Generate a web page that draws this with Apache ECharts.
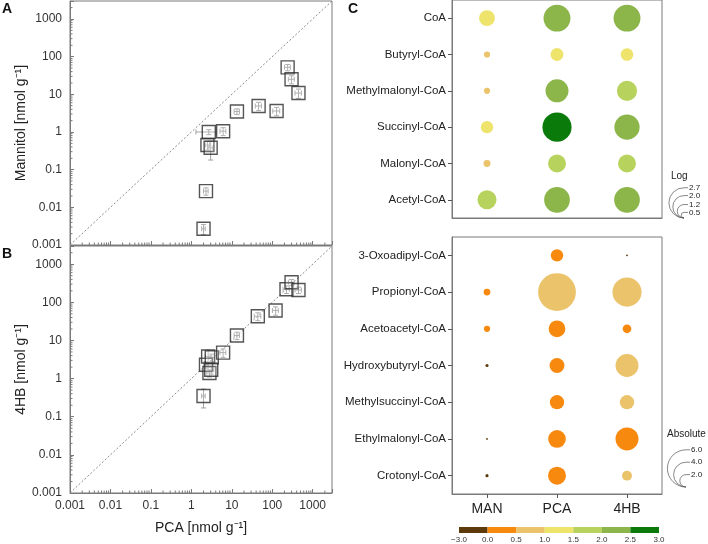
<!DOCTYPE html>
<html><head><meta charset="utf-8">
<script src="https://cdn.jsdelivr.net/npm/echarts@6/dist/echarts.min.js"></script>
<style>html,body{margin:0;padding:0;background:#fff}#c{width:708px;height:544px}</style>
</head><body><div id="c"></div>
<script>
// ---------- Data ----------
const logTickLabels = ['0.001','0.01','0.1','1','10','100','1000'];
const axisMin = 0.001, axisMax = 3000;

// Panel A: PCA vs Mannitol
const pcaA    = [2.0, 2.3, 2.5, 3.0, 2.7, 6.1, 13.4, 46, 128, 240, 300, 445];
const manA    = [0.0027, 0.027, 0.45, 0.38, 1.0, 1.05, 3.5, 4.9, 3.6, 52, 25, 10.8];
const pcaSdA  = [0.2, 0.3, 0.3, 0.4, 1.4, 1.0, 2, 8, 25, 40, 50, 80];
const manSdA  = [0.0008, 0.006, 0.12, 0.2, 0.15, 0.25, 0.6, 1.2, 0.9, 10, 6, 3];

// Panel B: PCA vs 4HB
const pcaB    = [2.0, 2.3, 2.6, 3.2, 2.8, 3.1, 6.1, 13.4, 44, 121, 225, 300, 445];
const hbB     = [0.35, 2.3, 3.8, 3.6, 1.4, 1.7, 4.8, 13.5, 43, 61, 220, 335, 210];
const pcaSdB  = [0.2, 0.3, 0.4, 0.5, 0.4, 0.5, 1, 2, 8, 20, 40, 50, 80];
const hbSdB   = [0.18, 0.5, 1.8, 0.8, 0.3, 0.4, 1.2, 3, 10, 15, 50, 60, 40];

// Panel C
const conditions = ['MAN', 'PCA', '4HB'];
const upperCoAs = ['CoA','Butyryl-CoA','Methylmalonyl-CoA','Succinyl-CoA','Malonyl-CoA','Acetyl-CoA'];
const lowerCoAs = ['3-Oxoadipyl-CoA','Propionyl-CoA','Acetoacetyl-CoA','Hydroxybutyryl-CoA','Methylsuccinyl-CoA','Ethylmalonyl-CoA','Crotonyl-CoA'];
// upper: log values (size and colour)
const logMAN = [1.42, 0.55, 0.55, 1.1, 0.62, 1.7];
const logPCA = [2.4, 1.15, 2.05, 2.6, 1.6, 2.3];
const log4HB = [2.4, 1.12, 1.8, 2.25, 1.6, 2.3];
// lower: absolute values (size) and colour values
const absMAN = [null, 1.1, 1.0, 0.5, null, 0.3, 0.5];
const absPCA = [2.0, 6.1, 2.7, 2.4, 2.3, 2.85, 2.9];
const abs4HB = [0.3, 4.7, 1.4, 3.7, 2.3, 3.7, 1.6];
const colMAN = [null, 0.3, 0.3, -1, null, -1, -1];
const colPCA = [0.25, 0.75, 0.25, 0.2, 0.3, 0.3, 0.2];
const col4HB = [-1, 0.75, 0.3, 0.75, 0.75, 0.3, 0.75];

const colorEdges  = [-3, 0, 0.5, 1, 1.5, 2, 2.5, 3];
const colorLabels = ['\u22123.0','0.0','0.5','1.0','1.5','2.0','2.5','3.0'];
const colorBins   = ['#5c3a0c','#f7890f','#ebc36b','#eee46c','#b8d35d','#8cb54a','#0a7a0a'];

const logLegendVals = [0.5, 1.2, 2.0, 2.7];
const absLegendVals = [2.0, 4.0, 6.0];

// ---------- Helpers ----------
const FONT = 'Liberation Sans, Arial, sans-serif';
const LOG_PX = 11.2;  // bubble diameter per log unit
const ABS_PX = 6.2;   // bubble diameter per absolute unit

function logFmt(v) {
  const l = Math.log10(v), k = Math.round(l);
  return (Math.abs(l - k) < 1e-6 && k >= -3 && k <= 3) ? logTickLabels[k + 3] : '';
}
function logAxis(gridIndex, showLabels, extra) {
  return Object.assign({
    type: 'log', logBase: 10, gridIndex, min: axisMin, max: axisMax, splitNumber: 7,
    axisLine: { show: true, onZero: false, lineStyle: { color: '#7a7a7a' } },
    axisTick: { show: true, inside: true, length: 4, lineStyle: { color: '#7a7a7a' } },
    splitLine: { show: false },
    axisLabel: { show: showLabels, color: '#333', fontSize: 12, fontFamily: FONT, formatter: logFmt }
  }, extra || {});
}
function errRender(params, api) {
  const x = api.value(0), y = api.value(1), xs = api.value(2), ys = api.value(3);
  const lo = v => Math.max(v, axisMin);
  const yl = api.coord([x, lo(y - ys)]), yh = api.coord([x, y + ys]);
  const xl = api.coord([lo(x - xs), y]), xh = api.coord([x + xs, y]);
  const st = { stroke: '#a0a0a0', lineWidth: 1 };
  const cap = 2.5;
  const L = (x1, y1, x2, y2) => ({ type: 'line', shape: { x1, y1, x2, y2 }, style: st });
  return { type: 'group', children: [
    L(yl[0], yl[1], yh[0], yh[1]), L(yl[0]-cap, yl[1], yl[0]+cap, yl[1]), L(yh[0]-cap, yh[1], yh[0]+cap, yh[1]),
    L(xl[0], xl[1], xh[0], xh[1]), L(xl[0], xl[1]-cap, xl[0], xl[1]+cap), L(xh[0], xh[1]-cap, xh[0], xh[1]+cap)
  ]};
}
function minorTickData() {
  const d = [];
  for (let k = -3; k <= 3; k++) for (let m = 2; m <= 9; m++) {
    const v = m * Math.pow(10, k);
    if (v < axisMax) { d.push([v, axisMin, 0]); d.push([axisMin, v, 1]); }
  }
  return d;
}
function minorRender(params, api) {
  const p = api.coord([api.value(0), api.value(1)]);
  const isY = api.value(2) === 1;
  return { type: 'line', shape: isY ? { x1: p[0], y1: p[1], x2: p[0] + 2.5, y2: p[1] } : { x1: p[0], y1: p[1], x2: p[0], y2: p[1] - 2.5 },
           style: { stroke: '#7a7a7a', lineWidth: 1 } };
}
function zipPts(xs, ys, xsd, ysd) { return xs.map((x, i) => [x, ys[i], xsd[i], ysd[i]]); }

function scatterPanel(xi, xs, ys, xsd, ysd) {
  return [
    { type: 'line', xAxisIndex: xi, yAxisIndex: xi, data: [[axisMin, axisMin], [axisMax, axisMax]], symbol: 'none', silent: true,
      lineStyle: { color: '#8a8a8a', width: 1, type: [2, 2] }, z: 1 },
    { type: 'custom', xAxisIndex: xi, yAxisIndex: xi, data: zipPts(xs, ys, xsd, ysd), renderItem: errRender, silent: true, z: 2,
      encode: { x: 0, y: 1 } },
    { type: 'scatter', xAxisIndex: xi, yAxisIndex: xi, data: zipPts(xs, ys, xsd, ysd), symbol: 'rect', symbolSize: 13, z: 3,
      itemStyle: { color: 'rgba(255,255,255,0.2)', borderColor: '#2b2b2b', borderWidth: 1.4 } },
    { type: 'custom', xAxisIndex: xi, yAxisIndex: xi, data: minorTickData(), renderItem: minorRender, silent: true, z: 4,
      encode: { x: 0, y: 1 }, clip: false }
  ];
}

const upperData = [], lowerData = [];
[logMAN, logPCA, log4HB].forEach((arr, c) => arr.forEach((v, r) => { if (v != null) upperData.push([c, r, v, v]); }));
const absCols = [absMAN, absPCA, abs4HB], colCols = [colMAN, colPCA, col4HB];
absCols.forEach((arr, c) => arr.forEach((v, r) => { if (v != null) lowerData.push([c, r, v, colCols[c][r]]); }));

const catY = (gridIndex, data) => ({
  type: 'category', gridIndex, data, inverse: true,
  axisLine: { show: true, lineStyle: { color: '#7a7a7a' } },
  axisTick: { show: true, alignWithLabel: true, length: 4, lineStyle: { color: '#555' } },
  axisLabel: { color: '#222', fontSize: 11.5, fontFamily: FONT, margin: 6 }
});
const catX = (gridIndex, showLabel) => ({
  type: 'category', gridIndex, data: conditions,
  axisLine: { show: true, lineStyle: { color: '#7a7a7a' } },
  axisTick: { show: showLabel, alignWithLabel: true, length: 4, lineStyle: { color: '#555' } },
  axisLabel: { show: showLabel, color: '#222', fontSize: 14, fontFamily: FONT, margin: 8 }
});

// size legends
const graphics = [
  { type: 'text', x: 2, y: 2, style: { text: 'A', font: 'bold 14px ' + FONT, fill: '#111' } },
  { type: 'text', x: 2, y: 247, style: { text: 'B', font: 'bold 14px ' + FONT, fill: '#111' } },
  { type: 'text', x: 348, y: 2, style: { text: 'C', font: 'bold 14px ' + FONT, fill: '#111' } },
  { type: 'text', x: 671, y: 171, style: { text: 'Log', font: '10px ' + FONT, fill: '#222' } },
  { type: 'text', x: 667, y: 429, style: { text: 'Absolute', font: '10px ' + FONT, fill: '#222' } }
];
function addLegend(vals, pxPerUnit, cx, bottom) {
  vals.forEach(v => {
    const r = v * pxPerUnit / 2, cy = bottom - r, top = bottom - 2 * r;
    graphics.push({ type: 'arc', shape: { cx, cy, r, startAngle: Math.PI / 2, endAngle: Math.PI * 1.5, clockwise: true },
      style: { stroke: '#555', fill: null, lineWidth: 0.7 } });
    graphics.push({ type: 'line', shape: { x1: cx, y1: top, x2: cx + 4, y2: top }, style: { stroke: '#555', lineWidth: 0.7 } });
    graphics.push({ type: 'text', x: cx + 5, y: top, style: { text: v.toFixed(1), font: '8px ' + FONT, fill: '#222', verticalAlign: 'middle' } });
  });
}
addLegend(logLegendVals, LOG_PX, 684, 218);
addLegend(absLegendVals, ABS_PX, 686, 487);

const option = {
  animation: false,
  backgroundColor: '#fff',
  textStyle: { fontFamily: FONT },
  grid: [
    { left: 70, top: 1, width: 262, height: 244, show: true, borderColor: '#7a7a7a', borderWidth: 1 },
    { left: 70, top: 246, width: 262, height: 247, show: true, borderColor: '#7a7a7a', borderWidth: 1 },
    { left: 452, top: -8, width: 210, height: 226, show: true, borderColor: '#7a7a7a', borderWidth: 1 },
    { left: 452, top: 237, width: 210, height: 257, show: true, borderColor: '#7a7a7a', borderWidth: 1 },
    { left: 459, top: 527, width: 200, height: 7 }
  ],
  xAxis: [
    logAxis(0, false),
    logAxis(1, true, { name: 'PCA [nmol g\u207B\u00B9]', nameLocation: 'middle', nameGap: 28,
      nameTextStyle: { fontSize: 14, color: '#222', fontFamily: FONT }, axisLabel: { show: true, color: '#333', fontSize: 12, fontFamily: FONT, formatter: logFmt, margin: 7 } }),
    catX(2, false),
    catX(3, true),
    { type: 'value', gridIndex: 4, min: 0, max: 7, interval: 1, axisLine: { show: false }, axisTick: { show: false }, splitLine: { show: false },
      axisLabel: { fontSize: 8, color: '#333', margin: 3, fontFamily: FONT, formatter: v => colorLabels[Math.round(v)] } }
  ],
  yAxis: [
    logAxis(0, true, { name: 'Mannitol [nmol g\u207B\u00B9]', nameLocation: 'middle', nameGap: 42,
      nameTextStyle: { fontSize: 14, color: '#222', fontFamily: FONT } }),
    logAxis(1, true, { name: '4HB [nmol g\u207B\u00B9]', nameLocation: 'middle', nameGap: 42,
      nameTextStyle: { fontSize: 14, color: '#222', fontFamily: FONT } }),
    catY(2, upperCoAs),
    catY(3, lowerCoAs),
    { type: 'value', gridIndex: 4, min: 0, max: 1, show: false }
  ],
  visualMap: {
    type: 'piecewise', show: false, dimension: 3, seriesIndex: [8, 9],
    pieces: colorBins.map((c, i) => ({ gte: colorEdges[i], lt: colorEdges[i + 1], color: c }))
  },
  series: [
    ...scatterPanel(0, pcaA, manA, pcaSdA, manSdA),
    ...scatterPanel(1, pcaB, hbB, pcaSdB, hbSdB),
    { type: 'scatter', xAxisIndex: 2, yAxisIndex: 2, data: upperData, symbolSize: v => v[2] * LOG_PX, itemStyle: { opacity: 1 } },
    { type: 'scatter', xAxisIndex: 3, yAxisIndex: 3, data: lowerData, symbolSize: v => v[2] * ABS_PX, itemStyle: { opacity: 1 } },
    { type: 'custom', xAxisIndex: 4, yAxisIndex: 4, data: colorBins.map((c, i) => [i, 0]), silent: true,
      renderItem: (params, api) => {
        const i = api.value(0);
        const a = api.coord([i, 1]), b = api.coord([i + 1, 0]);
        return { type: 'rect', shape: { x: a[0], y: a[1], width: b[0] - a[0], height: b[1] - a[1] }, style: { fill: colorBins[i] } };
      } }
  ],
  graphic: graphics
};
const chart = echarts.init(document.getElementById('c'), null, { renderer: 'canvas' });
chart.setOption(option);
</script>
</body></html>
